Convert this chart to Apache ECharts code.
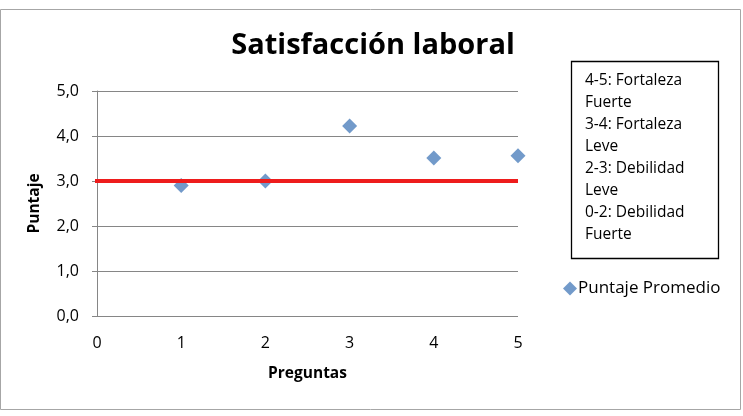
<!DOCTYPE html>
<html>
<head>
<meta charset="utf-8">
<script src="https://cdn.jsdelivr.net/npm/echarts@6/dist/echarts.min.js"></script>
<style>
  html, body { margin: 0; padding: 0; background: #fff; }
  #main { width: 743px; height: 416px; }
</style>
</head>
<body>
<div id="main"></div>
<script>
// preguntas y puntajes
let preguntas = [1, 2, 3, 4, 5];
let puntajes = [2.90, 3.00, 4.22, 3.51, 3.56];
let lineaX = [-0.17, 5];
let lineaY = [3.0, 3.0];
let escala = ['4-5: Fortaleza', 'Fuerte', '3-4: Fortaleza', 'Leve', '2-3: Debilidad', 'Leve', '0-2: Debilidad', 'Fuerte'];

let fuente = '"Open Sans", "Noto Sans", sans-serif';
let mychart = echarts.init(document.getElementById('main'));

let option = {
    animation: false,
    textStyle: { fontFamily: fuente },
    title: {
        text: 'Satisfacción laboral',
        left: 368,
        textAlign: 'center',
        top: 26,
        textStyle: { fontSize: 29, fontWeight: 'bold', color: '#000', fontFamily: fuente }
    },
    legend: {
        left: 558,
        top: 275,
        itemWidth: 14,
        itemHeight: 14,
        itemGap: 4,
        textStyle: { fontSize: 17, color: '#000', fontFamily: fuente, padding: [0, 0, 0, -4] },
        data: [{ name: 'Puntaje Promedio', icon: 'diamond' }]
    },
    grid: { left: 97, right: 225, top: 91, bottom: 100 },
    xAxis: {
        type: 'value',
        min: 0,
        max: 5,
        interval: 1,
        name: 'Preguntas',
        nameLocation: 'middle',
        nameGap: 50,
        nameTextStyle: { fontSize: 15.5, fontWeight: 'bold', color: '#000' },
        axisLine: { show: false },
        axisTick: { show: false },
        splitLine: { show: false },
        axisLabel: { fontSize: 16, color: '#000', margin: 19 }
    },
    yAxis: {
        type: 'value',
        min: 0,
        max: 5,
        interval: 1,
        name: 'Puntaje',
        nameLocation: 'middle',
        nameGap: 54,
        nameTextStyle: { fontSize: 15.5, fontWeight: 'bold', color: '#000' },
        axisLine: { show: true, lineStyle: { color: '#868686', width: 1 } },
        axisTick: { show: true, length: 5, lineStyle: { color: '#868686' } },
        splitLine: { show: true, lineStyle: { color: '#868686', width: 1 } },
        axisLabel: {
            fontSize: 16, color: '#000', margin: 18,
            formatter: function (v) { return v.toFixed(1).replace('.', ','); }
        }
    },
    series: [
        {
            name: 'Referencia',
            type: 'line',
            data: lineaX.map(function (x, i) { return [x, lineaY[i]]; }),
            showSymbol: false,
            clip: false,
            lineStyle: { color: '#ee1c1c', width: 4 },
            silent: true,
            z: 3
        },
        {
            name: 'Puntaje Promedio',
            type: 'scatter',
            symbol: 'diamond',
            symbolSize: 15,
            itemStyle: { color: '#4f81bd' },
            data: preguntas.map(function (p, i) { return [p, puntajes[i]]; }),
            z: 2
        }
    ],
    graphic: [
        {
            type: 'rect',
            shape: { x: 0.5, y: 9.5, width: 740, height: 400 },
            style: { fill: 'none', stroke: '#a6a6a6', lineWidth: 1 }
        },
        {
            type: 'rect',
            shape: { x: 571.5, y: 61.5, width: 147, height: 197 },
            style: { fill: '#fff', stroke: '#000', lineWidth: 1.3 }
        },
        {
            type: 'text',
            left: 585,
            top: 70,
            style: {
                text: escala.join('\n'),
                font: '15.5px ' + fuente,
                lineHeight: 22,
                fill: '#000'
            }
        }
    ]
};
mychart.setOption(option);
</script>
</body>
</html>
